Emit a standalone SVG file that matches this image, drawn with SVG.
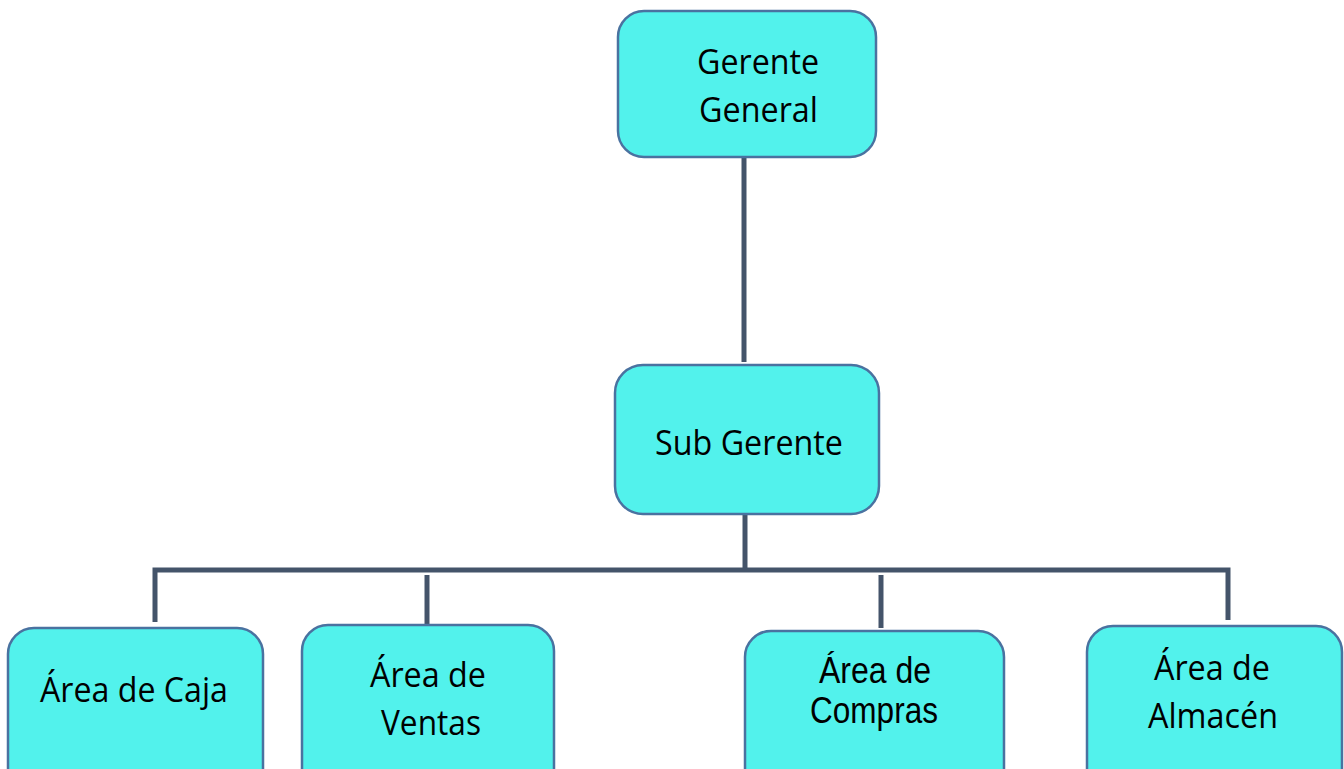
<svg xmlns="http://www.w3.org/2000/svg" width="1344" height="769" viewBox="0 0 1344 769">
<style>
.box{fill:#52F2EC;stroke:#4A72A0;stroke-width:2.5}
.t{font-family:"Open Sans","Noto Sans",sans-serif;font-size:35px;fill:#000}
.a{font-family:"Liberation Sans",Arial,sans-serif;font-size:36px;fill:#000}
.c{stroke:#44546A;stroke-width:5;fill:none}
</style>
<rect width="1344" height="769" fill="#fff"/>
<g id="connectors">
<line class="c" x1="744" y1="153" x2="744" y2="362"/>
<line class="c" x1="745" y1="514" x2="745" y2="570"/>
<polyline class="c" points="155,622 155,570 1228,570 1228,620"/>
<line class="c" x1="427" y1="575" x2="427" y2="627"/>
<line class="c" x1="881" y1="575" x2="881" y2="628"/>
</g>
<g id="gerente-general">
<rect class="box" x="618" y="11" width="258" height="146" rx="26"/>
<text class="t" x="697" y="74" textLength="122" lengthAdjust="spacingAndGlyphs">Gerente</text>
<text class="t" x="699" y="122" textLength="119" lengthAdjust="spacingAndGlyphs">General</text>
</g>
<g id="sub-gerente">
<rect class="box" x="615" y="365" width="264" height="149" rx="28"/>
<text class="t" x="655" y="455" textLength="188" lengthAdjust="spacingAndGlyphs">Sub Gerente</text>
</g>
<g id="area-caja">
<rect class="box" x="8" y="628" width="255" height="170" rx="26"/>
<text class="t" x="40" y="702" textLength="188" lengthAdjust="spacingAndGlyphs">Área de Caja</text>
</g>
<g id="area-ventas">
<rect class="box" x="302" y="625" width="252" height="170" rx="26"/>
<text class="t" x="370" y="687" textLength="116" lengthAdjust="spacingAndGlyphs">Área de</text>
<text class="t" x="381" y="735" textLength="100" lengthAdjust="spacingAndGlyphs">Ventas</text>
</g>
<g id="area-compras">
<rect class="box" x="745" y="631" width="259" height="170" rx="26"/>
<text class="a" x="819" y="683" textLength="112" lengthAdjust="spacingAndGlyphs">Área de</text>
<text class="a" x="810" y="723" textLength="128" lengthAdjust="spacingAndGlyphs">Compras</text>
</g>
<g id="area-almacen">
<rect class="box" x="1087" y="626" width="255" height="170" rx="26"/>
<text class="t" x="1154" y="680" textLength="116" lengthAdjust="spacingAndGlyphs">Área de</text>
<text class="t" x="1148" y="728" textLength="130" lengthAdjust="spacingAndGlyphs">Almacén</text>
</g>
</svg>
